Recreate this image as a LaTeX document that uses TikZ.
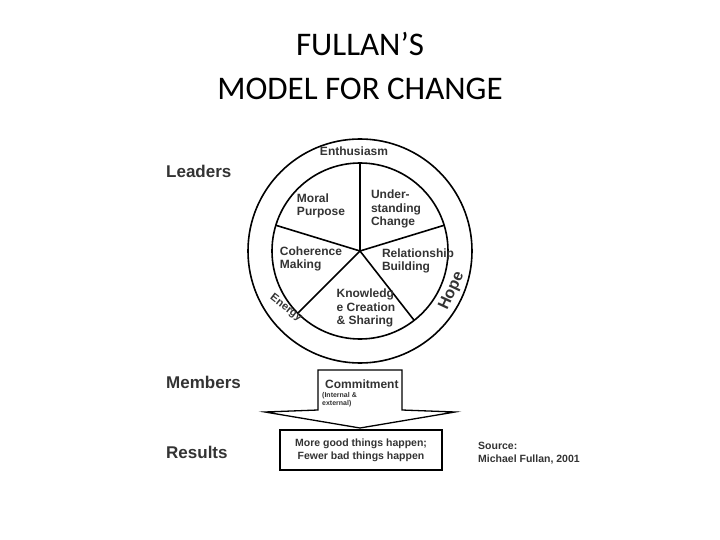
\documentclass[tikz,border=0pt]{standalone}
\usepackage{fontspec}
\setmainfont{Liberation Sans}
\newfontfamily\titlefont{Carlito}
\begin{document}
\begin{tikzpicture}[x=1pt,y=-1pt,
  lab/.style={font=\fontsize{12}{13.5}\selectfont\bfseries\color{black!80}, align=left, inner sep=0},
  side/.style={font=\fontsize{17}{19}\selectfont\bfseries\color{black!80}, anchor=west, inner sep=0},
  ln/.style={draw=black, line width=1.6pt}]
\useasboundingbox (0,0) rectangle (720,540);
\node[font=\titlefont\fontsize{33}{44}\selectfont, align=center] (title) at (360,66) {FULLAN’S\\MODEL FOR CHANGE};
\coordinate (c) at (360,251);
\draw[ln] (c) circle[radius=112];
\draw[ln] (c) circle[radius=88];
\foreach \a in {90,17,163,-128,-45} \draw[ln] (c) -- ++(\a:-88) ;
\node[lab] (enth) at (354,151) {Enthusiasm};
\node[lab] (mp) at (321,206) {Moral\\Purpose};
\node[lab] (uc) at (396,209) {Under-\\standing\\Change};
\node[lab] (cm) at (311,259) {Coherence\\Making};
\node[lab] (rb) at (418,261) {Relationship\\Building};
\node[lab] (kc) at (366,308) {Knowledg\\e Creation\\\& Sharing};
\node[lab, font=\fontsize{11}{12}\selectfont\bfseries\color{black!80}, rotate=-38] (en) at (286,308) {Energy};
\node[lab, font=\fontsize{16}{16}\selectfont\bfseries\color{black!80}, rotate=65] (hope) at (452,291) {Hope};
\node[side] (lead) at (166,171) {Leaders};
\node[side] (mem) at (166,382) {Members};
\node[side] (res) at (166,452) {Results};
\draw[draw=black, line width=1.3pt, fill=white] (318,370) -- (402,370) -- (402,410) -- (455,412) -- (360,428) -- (265,412) -- (318,410) -- cycle;
\node[lab, anchor=west] (com) at (325,384) {Commitment};
\node[font=\fontsize{7}{8}\selectfont\bfseries\color{black!80}, align=left, anchor=north west, inner sep=0] (ie) at (322,392) {(Internal \&\\external)};
\node[draw=black, line width=1.3pt, minimum width=162, minimum height=40, inner sep=0, font=\fontsize{10.5}{13}\selectfont\bfseries\color{black!80}, align=center] (rbx) at (361,450) {More good things happen;\\Fewer bad things happen};
\node[font=\fontsize{10.5}{13}\selectfont\bfseries\color{black!80}, align=left, anchor=west, inner sep=0] (src) at (478,453) {Source:\\Michael Fullan, 2001};
\end{tikzpicture}
\end{document}
